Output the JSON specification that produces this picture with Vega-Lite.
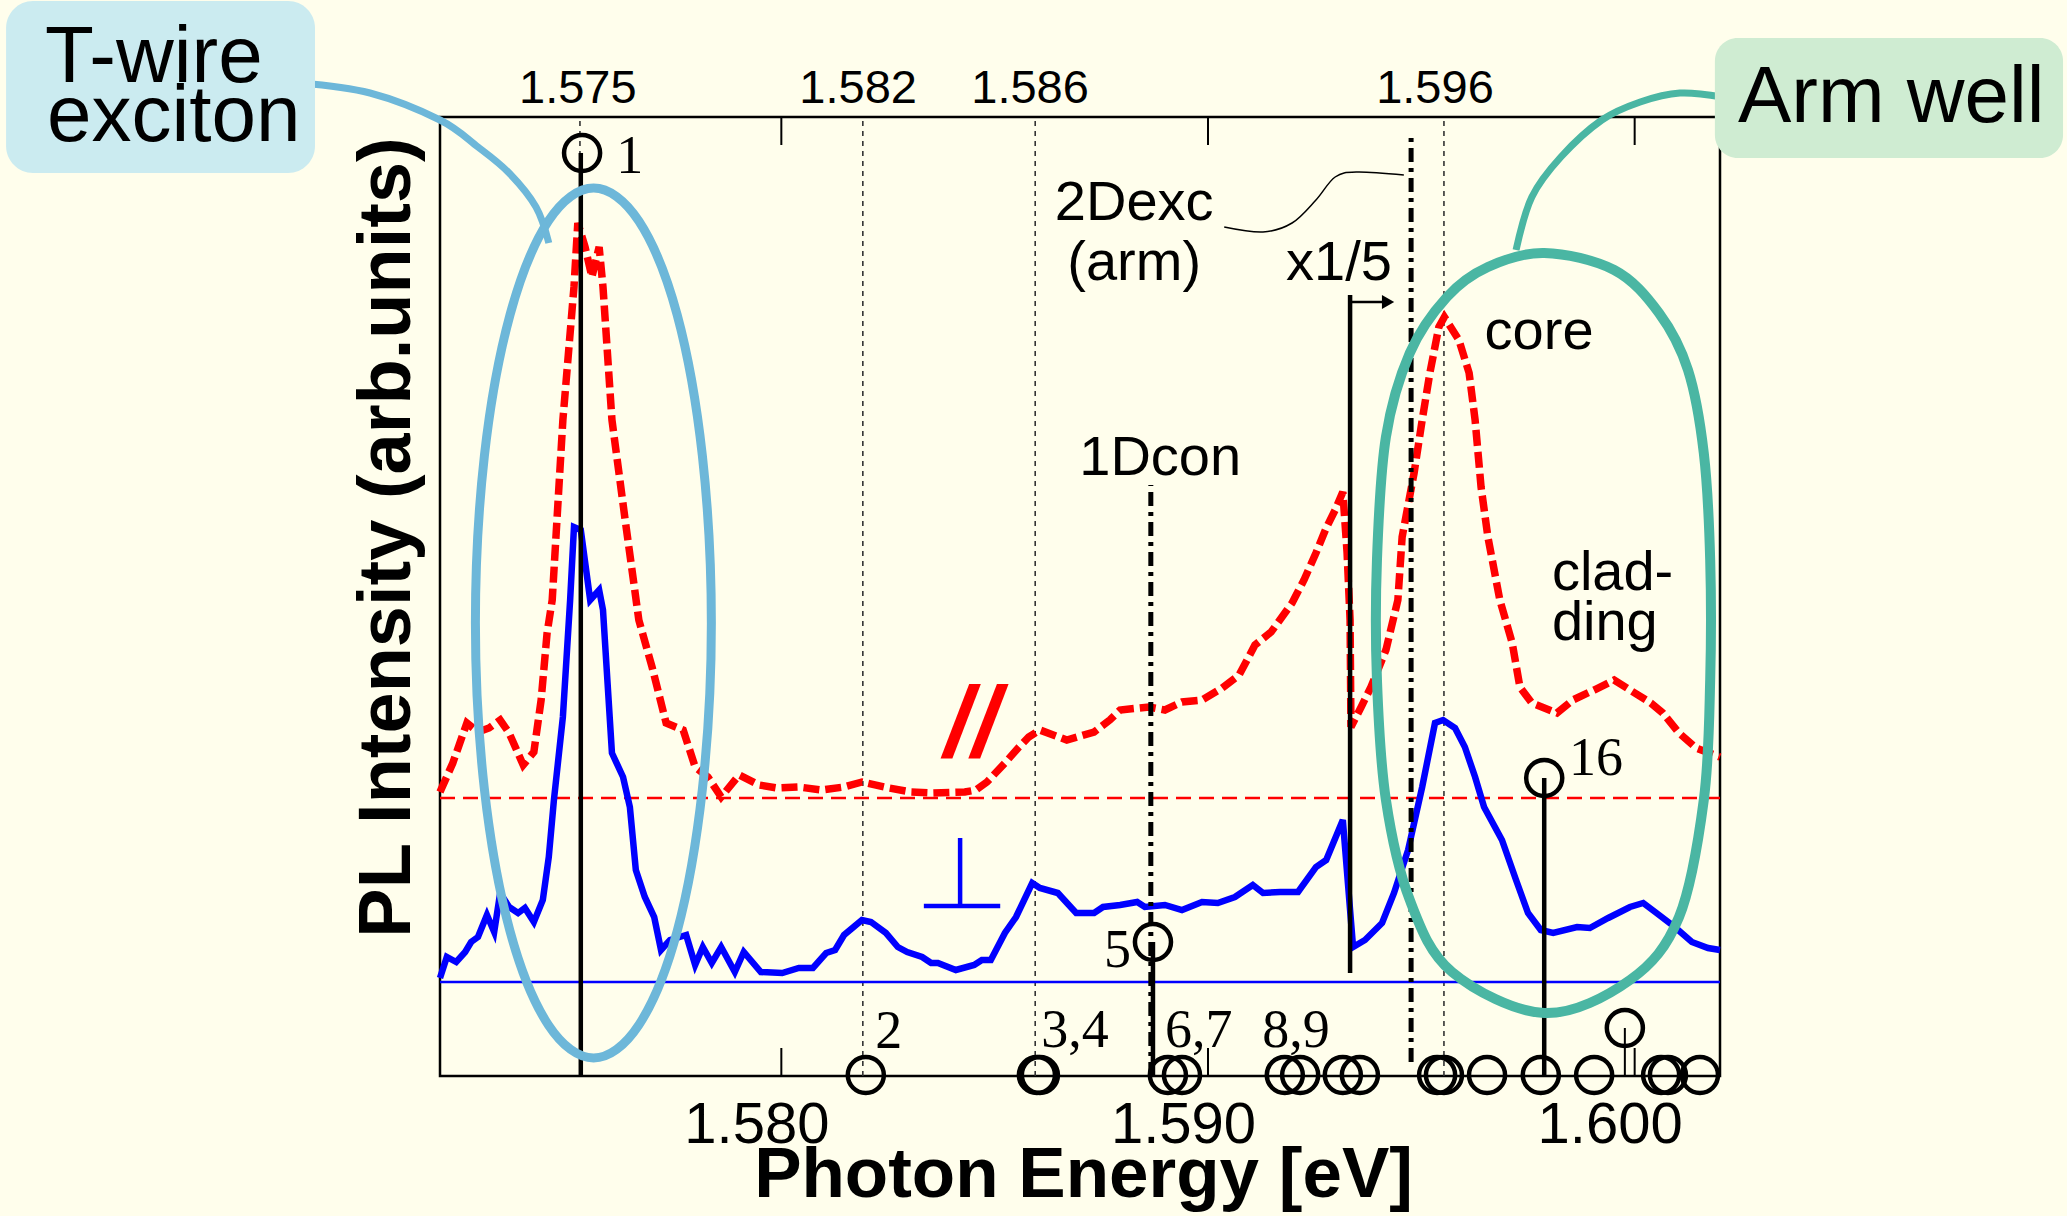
{
"$schema":"https://vega.github.io/schema/vega-lite/v6.json",
"width":1280,"height":959,
"autosize":{"type":"none"},
"padding":{"left":440,"top":117,"right":347,"bottom":140},
"background":"#fffeec",
"config":{"view":{"stroke":"#000","strokeWidth":2.5}},
"encoding":{
 "x":{"field":"E","type":"quantitative","scale":{"domain":[1.572,1.602],"nice":false,"zero":false},
  "axis":{"orient":"bottom","values":[1.58,1.59,1.6],"format":".3f","ticks":false,"tickSize":0,"domain":false,"grid":false,"labelFont":"Liberation Sans","labelFontSize":58,"labelColor":"#000","labelBaseline":"alphabetic","labelPadding":66,"labelOffset":-25,"labelFlush":false,"labelOverlap":false,"title":"Photon Energy [eV]","titleFont":"Liberation Sans","titleFontSize":71,"titleFontWeight":"bold","titleColor":"#000","titleBaseline":"alphabetic","titleAlign":"center","titleX":643,"titleY":120}},
 "y":{"field":"v","type":"quantitative","scale":{"domain":[0,959],"nice":false,"zero":false},
  "axis":{"orient":"left","labels":false,"ticks":false,"domain":false,"grid":false,"title":"PL Intensity (arb.units)","titleFont":"Liberation Sans","titleFontSize":74,"titleFontWeight":"bold","titleColor":"#000","titleAngle":-90,"titleBaseline":"alphabetic","titleAlign":"center","titleX":-31,"titleY":420}}
},
"datasets":{
 "red":[{"E":1.572,"v":284},{"E":1.5723,"v":313},{"E":1.57263,"v":353},{"E":1.57289,"v":344},{"E":1.57315,"v":348},{"E":1.57341,"v":356},{"E":1.57362,"v":343},{"E":1.57395,"v":311},{"E":1.5742,"v":324},{"E":1.57437,"v":376},{"E":1.57451,"v":443},{"E":1.57463,"v":476},{"E":1.57488,"v":656},{"E":1.57514,"v":789},{"E":1.57523,"v":853},{"E":1.5754,"v":829},{"E":1.57556,"v":799},{"E":1.57573,"v":829},{"E":1.57582,"v":789},{"E":1.57603,"v":656},{"E":1.57634,"v":556},{"E":1.57666,"v":456},{"E":1.57697,"v":409},{"E":1.5773,"v":353},{"E":1.5777,"v":346},{"E":1.57798,"v":309},{"E":1.57828,"v":299},{"E":1.57859,"v":279},{"E":1.57901,"v":301},{"E":1.57948,"v":291},{"E":1.5799,"v":288},{"E":1.58041,"v":289},{"E":1.58095,"v":286},{"E":1.58147,"v":289},{"E":1.58189,"v":294},{"E":1.58252,"v":288},{"E":1.58304,"v":284},{"E":1.58355,"v":283},{"E":1.5843,"v":284},{"E":1.58456,"v":286},{"E":1.58482,"v":294},{"E":1.58524,"v":313},{"E":1.58555,"v":328},{"E":1.5858,"v":339},{"E":1.58606,"v":346},{"E":1.58669,"v":336},{"E":1.58733,"v":344},{"E":1.5877,"v":356},{"E":1.58794,"v":366},{"E":1.58862,"v":369},{"E":1.58899,"v":366},{"E":1.58939,"v":374},{"E":1.58986,"v":376},{"E":1.59033,"v":388},{"E":1.59073,"v":401},{"E":1.5911,"v":431},{"E":1.59148,"v":444},{"E":1.59197,"v":473},{"E":1.59225,"v":496},{"E":1.59253,"v":523},{"E":1.59277,"v":548},{"E":1.59298,"v":566},{"E":1.59316,"v":584},{"E":1.59326,"v":523},{"E":1.59333,"v":456},{"E":1.59335,"v":349},{"E":1.59359,"v":369},{"E":1.59382,"v":389},{"E":1.59417,"v":426},{"E":1.59445,"v":476},{"E":1.59455,"v":539},{"E":1.59483,"v":603},{"E":1.59502,"v":656},{"E":1.5952,"v":703},{"E":1.59541,"v":749},{"E":1.59554,"v":759},{"E":1.59588,"v":736},{"E":1.59612,"v":703},{"E":1.59626,"v":656},{"E":1.5964,"v":589},{"E":1.59656,"v":539},{"E":1.59684,"v":476},{"E":1.59713,"v":433},{"E":1.59731,"v":389},{"E":1.59759,"v":373},{"E":1.59818,"v":363},{"E":1.59855,"v":376},{"E":1.59905,"v":386},{"E":1.59952,"v":396},{"E":1.59989,"v":386},{"E":1.60038,"v":373},{"E":1.60066,"v":363},{"E":1.60104,"v":343},{"E":1.60144,"v":328},{"E":1.602,"v":319}],
 "blue":[{"E":1.572,"v":98},{"E":1.57216,"v":119},{"E":1.57238,"v":114},{"E":1.57259,"v":124},{"E":1.57273,"v":134},{"E":1.57289,"v":139},{"E":1.5731,"v":161},{"E":1.57327,"v":144},{"E":1.57341,"v":183},{"E":1.57362,"v":169},{"E":1.57383,"v":163},{"E":1.57399,"v":168},{"E":1.5742,"v":154},{"E":1.57441,"v":176},{"E":1.57455,"v":219},{"E":1.57467,"v":276},{"E":1.57488,"v":359},{"E":1.57505,"v":476},{"E":1.57514,"v":549},{"E":1.5753,"v":546},{"E":1.57552,"v":476},{"E":1.57573,"v":486},{"E":1.57582,"v":466},{"E":1.57603,"v":323},{"E":1.57629,"v":299},{"E":1.57645,"v":269},{"E":1.57659,"v":206},{"E":1.5768,"v":179},{"E":1.57702,"v":159},{"E":1.57718,"v":126},{"E":1.57739,"v":136},{"E":1.57777,"v":141},{"E":1.57798,"v":111},{"E":1.57816,"v":129},{"E":1.57837,"v":113},{"E":1.57859,"v":129},{"E":1.57891,"v":104},{"E":1.57912,"v":124},{"E":1.57952,"v":104},{"E":1.58002,"v":103},{"E":1.58041,"v":108},{"E":1.58074,"v":108},{"E":1.58105,"v":123},{"E":1.58126,"v":126},{"E":1.58147,"v":141},{"E":1.58189,"v":156},{"E":1.5821,"v":154},{"E":1.58245,"v":143},{"E":1.58273,"v":129},{"E":1.58295,"v":124},{"E":1.5833,"v":119},{"E":1.58351,"v":113},{"E":1.58367,"v":113},{"E":1.58409,"v":106},{"E":1.58452,"v":111},{"E":1.5847,"v":116},{"E":1.58491,"v":116},{"E":1.58524,"v":143},{"E":1.5855,"v":159},{"E":1.58588,"v":193},{"E":1.58606,"v":188},{"E":1.58648,"v":183},{"E":1.58691,"v":163},{"E":1.58733,"v":163},{"E":1.58754,"v":169},{"E":1.58794,"v":171},{"E":1.58834,"v":174},{"E":1.58852,"v":169},{"E":1.58899,"v":171},{"E":1.58939,"v":166},{"E":1.58986,"v":174},{"E":1.59023,"v":173},{"E":1.59063,"v":179},{"E":1.59105,"v":191},{"E":1.59129,"v":183},{"E":1.59169,"v":184},{"E":1.59211,"v":184},{"E":1.59253,"v":209},{"E":1.59277,"v":216},{"E":1.59316,"v":256},{"E":1.5934,"v":129},{"E":1.59368,"v":136},{"E":1.59408,"v":153},{"E":1.59436,"v":183},{"E":1.59469,"v":226},{"E":1.59502,"v":289},{"E":1.59532,"v":353},{"E":1.59551,"v":356},{"E":1.59579,"v":348},{"E":1.59602,"v":329},{"E":1.59626,"v":299},{"E":1.59647,"v":269},{"E":1.59689,"v":236},{"E":1.59722,"v":196},{"E":1.5975,"v":163},{"E":1.5978,"v":146},{"E":1.59809,"v":143},{"E":1.59865,"v":149},{"E":1.59895,"v":148},{"E":1.59938,"v":158},{"E":1.59989,"v":169},{"E":1.6002,"v":173},{"E":1.60048,"v":164},{"E":1.60094,"v":149},{"E":1.60134,"v":134},{"E":1.60172,"v":128},{"E":1.602,"v":126}],
 "ellipse":[{"i":0,"E":1.57836,"v":453},{"i":1,"E":1.57815,"v":620},{"i":2,"E":1.57756,"v":761},{"i":3,"E":1.57666,"v":855},{"i":4,"E":1.5756,"v":888},{"i":5,"E":1.57454,"v":855},{"i":6,"E":1.57364,"v":761},{"i":7,"E":1.57304,"v":620},{"i":8,"E":1.57283,"v":453},{"i":9,"E":1.57304,"v":287},{"i":10,"E":1.57364,"v":145},{"i":11,"E":1.57454,"v":51},{"i":12,"E":1.5756,"v":18},{"i":13,"E":1.57666,"v":51},{"i":14,"E":1.57756,"v":145},{"i":15,"E":1.57815,"v":287}],
 "stadium":[{"i":0,"E":1.59788,"v":823},{"i":1,"E":1.59952,"v":806},{"i":2,"E":1.60057,"v":763},{"i":3,"E":1.60125,"v":706},{"i":4,"E":1.60162,"v":623},{"i":5,"E":1.60177,"v":516},{"i":6,"E":1.60177,"v":396},{"i":7,"E":1.60162,"v":276},{"i":8,"E":1.60104,"v":159},{"i":9,"E":1.59989,"v":96},{"i":10,"E":1.59788,"v":63},{"i":11,"E":1.59572,"v":104},{"i":12,"E":1.59473,"v":176},{"i":13,"E":1.59417,"v":276},{"i":14,"E":1.59396,"v":396},{"i":15,"E":1.59396,"v":516},{"i":16,"E":1.59417,"v":639},{"i":17,"E":1.59473,"v":723},{"i":18,"E":1.5956,"v":779},{"i":19,"E":1.59656,"v":809}],
 "circles":[{"E":1.57533,"v":923},{"E":1.58871,"v":134},{"E":1.59788,"v":298},{"E":1.59977,"v":48},{"E":1.58198,"v":1},{"E":1.58599,"v":1},{"E":1.58606,"v":1},{"E":1.58906,"v":1},{"E":1.58939,"v":1},{"E":1.5918,"v":1},{"E":1.59216,"v":1},{"E":1.59316,"v":1},{"E":1.59356,"v":1},{"E":1.59537,"v":1},{"E":1.59553,"v":1},{"E":1.59654,"v":1},{"E":1.5978,"v":1},{"E":1.59905,"v":1},{"E":1.60062,"v":1},{"E":1.60078,"v":1},{"E":1.60153,"v":1}]
},
"layer":[
 {"data":{"values":[{"E":1.57528,"v":0,"v2":959},{"E":1.58191,"v":0,"v2":959},{"E":1.58595,"v":0,"v2":959},{"E":1.59553,"v":0,"v2":959}]},
  "mark":{"type":"rule","stroke":"#333","strokeWidth":1.6,"strokeDash":[5,5]},"encoding":{"y2":{"field":"v2"}}},
 {"data":{"values":[{"E":1.572,"E2":1.602,"v":278}]},
  "mark":{"type":"rule","stroke":"#ff0000","strokeWidth":2.5,"strokeDash":[15,8]},"encoding":{"x2":{"field":"E2"}}},
 {"data":{"values":[{"E":1.572,"E2":1.602,"v":94}]},
  "mark":{"type":"rule","stroke":"#0000ff","strokeWidth":2.5},"encoding":{"x2":{"field":"E2"}}},
 {"data":{"values":[{"E":1.58,"v":0,"v2":28},{"E":1.59,"v":0,"v2":28},{"E":1.6,"v":0,"v2":28},{"E":1.58,"v":931,"v2":959},{"E":1.59,"v":931,"v2":959},{"E":1.6,"v":931,"v2":959}]},
  "mark":{"type":"rule","stroke":"#000","strokeWidth":2},"encoding":{"y2":{"field":"v2"}}},
 {"data":{"name":"red"},"mark":{"type":"line","stroke":"#ff0000","strokeWidth":7.5,"strokeDash":[16,6]}},
 {"data":{"name":"blue"},"mark":{"type":"line","stroke":"#0000ff","strokeWidth":6.5}},
 {"data":{"values":[{"E":1.5753,"v":0,"v2":923},{"E":1.58871,"v":0,"v2":134},{"E":1.59333,"v":103,"v2":781},{"E":1.59788,"v":0,"v2":298}]},
  "mark":{"type":"rule","stroke":"#000","strokeWidth":4.5},"encoding":{"y2":{"field":"v2"}}},
 {"data":{"values":[{"E":1.59977,"v":0,"v2":48}]},
  "mark":{"type":"rule","stroke":"#000","strokeWidth":2},"encoding":{"y2":{"field":"v2"}}},
 {"data":{"values":[{"E":1.58866,"v":0,"v2":591},{"E":1.59476,"v":14,"v2":939}]},
  "mark":{"type":"rule","stroke":"#000","strokeWidth":5,"strokeDash":[14,6,4,6]},"encoding":{"y2":{"field":"v2"}}},
 {"data":{"values":[{"E":1.59333,"E2":1.5942,"v":774}]},
  "mark":{"type":"rule","stroke":"#000","strokeWidth":2.5},"encoding":{"x2":{"field":"E2"}}},
 {"data":{"values":[{"E":1.59422,"v":774}]},
  "mark":{"type":"point","shape":"triangle-right","filled":true,"fill":"#000","size":200,"opacity":1}},
 {"data":{"values":[{"E":1.58419,"v":170,"v2":238}]},
  "mark":{"type":"rule","stroke":"#0000ff","strokeWidth":4.5},"encoding":{"y2":{"field":"v2"}}},
 {"data":{"values":[{"E":1.58334,"E2":1.58513,"v":170}]},
  "mark":{"type":"rule","stroke":"#0000ff","strokeWidth":4.5},"encoding":{"x2":{"field":"E2"}}},
 {"data":{"name":"circles"},
  "mark":{"type":"point","shape":"circle","filled":false,"stroke":"#000","strokeWidth":4.5,"size":1300,"opacity":1}},
 {"data":{"values":[{"E":1.59038,"v":849},{"E":1.59129,"v":844},{"E":1.59197,"v":853},{"E":1.59253,"v":876},{"E":1.59298,"v":899},{"E":1.59349,"v":904},{"E":1.59459,"v":901}]},
  "mark":{"type":"line","stroke":"#000","strokeWidth":1.5,"interpolate":"cardinal"}},
 {"data":{"values":[{"E":1.58888,"v":601,"t":"1Dcon"},{"E":1.58827,"v":856,"t":"2Dexc"},{"E":1.58827,"v":796,"t":"(arm)"},{"E":1.59776,"v":727,"t":"core"}]},
  "mark":{"type":"text","font":"Liberation Sans","fontSize":56,"align":"center","baseline":"alphabetic","fill":"#000"},"encoding":{"text":{"field":"t"}}},
 {"data":{"values":[{"E":1.59183,"v":796,"t":"x1/5"},{"E":1.59806,"v":486,"t":"clad-"},{"E":1.59806,"v":436,"t":"ding"}]},
  "mark":{"type":"text","font":"Liberation Sans","fontSize":56,"align":"left","baseline":"alphabetic","fill":"#000"},"encoding":{"text":{"field":"t"}}},
 {"data":{"values":[{"E":1.57613,"v":903,"t":"1"},{"E":1.5822,"v":28,"t":"2"},{"E":1.58609,"v":29,"t":"3,4"},{"E":1.58899,"v":29,"t":"6,7"},{"E":1.59127,"v":29,"t":"8,9"},{"E":1.58756,"v":109,"t":"5"},{"E":1.59846,"v":301,"t":"16"}]},
  "mark":{"type":"text","font":"Liberation Serif","fontSize":54,"align":"left","baseline":"alphabetic","fill":"#000"},"encoding":{"text":{"field":"t"}}},
 {"data":{"values":[{"E":1.58447,"v":319,"t":"//"}]},
  "mark":{"type":"text","font":"Liberation Sans","fontSize":100,"fontWeight":"bold","fontStyle":"italic","align":"center","baseline":"alphabetic","fill":"#ff0000"},"encoding":{"text":{"field":"t"}}},
 {"data":{"values":[{"E":1.57523,"v":973,"t":"1.575"},{"E":1.5818,"v":973,"t":"1.582"},{"E":1.58583,"v":973,"t":"1.586"},{"E":1.59532,"v":973,"t":"1.596"}]},
  "mark":{"type":"text","font":"Liberation Sans","fontSize":47,"align":"center","baseline":"alphabetic","fill":"#000"},"encoding":{"text":{"field":"t"}}},
 {"data":{"name":"ellipse"},"mark":{"type":"line","stroke":"#6db7d9","strokeWidth":9,"interpolate":"cardinal-closed"},"encoding":{"order":{"field":"i","type":"quantitative"}}},
 {"data":{"name":"stadium"},"mark":{"type":"line","stroke":"#4ab6a3","strokeWidth":10,"interpolate":"cardinal-closed"},"encoding":{"order":{"field":"i","type":"quantitative"}}},
 {"data":{"values":[{"E":1.56872,"v":993},{"E":1.57036,"v":983},{"E":1.572,"v":956},{"E":1.57289,"v":929},{"E":1.57362,"v":903},{"E":1.57425,"v":869},{"E":1.57455,"v":833}]},
  "mark":{"type":"line","stroke":"#6db7d9","strokeWidth":7,"interpolate":"cardinal"}},
 {"data":{"values":[{"E":1.60205,"v":979},{"E":1.60106,"v":983},{"E":1.60013,"v":974},{"E":1.59923,"v":956},{"E":1.59827,"v":919},{"E":1.59759,"v":879},{"E":1.59722,"v":826}]},
  "mark":{"type":"line","stroke":"#4ab6a3","strokeWidth":7,"interpolate":"cardinal"}},
 {"data":{"values":[{"E":1.56183,"E2":1.56907,"v":903,"v2":1075}]},
  "mark":{"type":"rect","fill":"#cbebf0","cornerRadius":27},"encoding":{"x2":{"field":"E2"},"y2":{"field":"v2"}}},
 {"data":{"values":[{"E":1.60188,"E2":1.61004,"v":918,"v2":1038}]},
  "mark":{"type":"rect","fill":"#cfecd2","cornerRadius":23},"encoding":{"x2":{"field":"E2"},"y2":{"field":"v2"}}},
 {"data":{"values":[{"E":1.56274,"v":994,"t":"T-wire"},{"E":1.56279,"v":935,"t":"exciton"},{"E":1.60242,"v":954,"t":"Arm well"}]},
  "mark":{"type":"text","font":"Liberation Sans","fontSize":80,"align":"left","baseline":"alphabetic","fill":"#000"},"encoding":{"text":{"field":"t"}}}
]
}
